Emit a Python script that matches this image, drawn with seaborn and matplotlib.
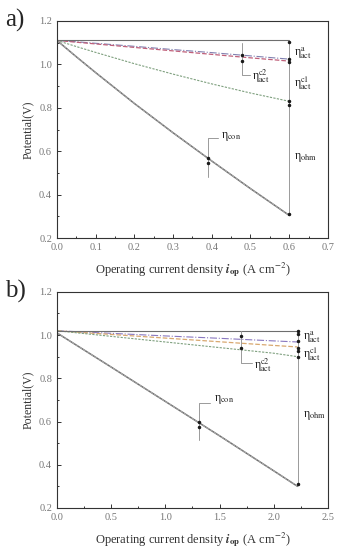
import numpy as np
import pandas as pd
import seaborn as sns
import matplotlib.pyplot as plt

# panel a) data
i_a = [0.0, 0.05, 0.1, 0.2, 0.3, 0.4, 0.5, 0.6]
v_a_total = [1.11, 1.035, 0.962, 0.820, 0.685, 0.555, 0.428, 0.305]
v_a_anode = [1.11, 1.104, 1.097, 1.083, 1.068, 1.054, 1.039, 1.024]
v_a_c2 = [1.11, 1.102, 1.094, 1.078, 1.062, 1.046, 1.030, 1.015]
v_a_c1 = [1.11, 1.082, 1.055, 1.003, 0.955, 0.910, 0.868, 0.830]
ocv_a = 1.11
iop_a = 0.6

# panel b) data
i_b = [0.0, 0.25, 0.5, 1.0, 1.5, 2.0, 2.22]
v_b_total = [1.01, 0.931, 0.852, 0.693, 0.534, 0.372, 0.30]
v_b_anode = [1.02, 1.014, 1.008, 0.996, 0.985, 0.973, 0.968]
v_b_c2 = [1.02, 1.011, 1.003, 0.986, 0.969, 0.952, 0.945]
v_b_c1 = [1.02, 1.007, 0.994, 0.968, 0.942, 0.916, 0.900]
ocv_b = 1.02
iop_b = 2.22

sns.set_theme(style="ticks")
plt.rcParams['font.family'] = ['Liberation Serif', 'DejaVu Serif']
plt.rcParams['mathtext.fontset'] = 'stix'

fig = plt.figure(figsize=(3.43, 5.5), dpi=100)
ax_a = fig.add_axes([0.166, 0.567, 0.790, 0.395])
ax_b = fig.add_axes([0.166, 0.0764, 0.790, 0.393])

gray = '#6e6e6e'
thin = '#9a9a9a'


def draw_curves(ax, x, total, anode, c2, c1, c2_color, anode_color):
    df = pd.DataFrame({'i': x, 'total': total, 'anode': anode, 'c2': c2, 'c1': c1})
    sns.lineplot(data=df, x='i', y='total', ax=ax, color=gray, lw=1.1)
    sns.lineplot(data=df, x='i', y='total', ax=ax, color='#b0b0b0', lw=0.6, linestyle='--')
    sns.lineplot(data=df, x='i', y='anode', ax=ax, color=anode_color, lw=0.8, linestyle='-.')
    sns.lineplot(data=df, x='i', y='c2', ax=ax, color=c2_color, lw=0.9, linestyle='--')
    sns.lineplot(data=df, x='i', y='c1', ax=ax, color='#7fa07f', lw=0.8, linestyle=(0, (2, 1.2)))


draw_curves(ax_a, i_a, v_a_total, v_a_anode, v_a_c2, v_a_c1, '#c0607a', '#8080b0')
draw_curves(ax_b, i_b, v_b_total, v_b_anode, v_b_c2, v_b_c1, '#d8a870', '#8a78c0')

lab = dict(fontsize=8.5, va='center', color='#222222')

# guide lines and markers, panel a
ax_a.plot([0, iop_a], [ocv_a, ocv_a], color=gray, lw=0.8)
ax_a.plot([iop_a, iop_a], [ocv_a, 0.31], color=thin, lw=0.7)
ax_a.plot([iop_a] * 6, [1.103, 1.025, 1.011, 0.831, 0.813, 0.31], 'k.', ms=3)
ax_a.plot([0.478, 0.478, 0.50], [1.10, 0.95, 0.95], color=thin, lw=0.7)
ax_a.plot([0.478, 0.478], [1.043, 1.016], 'k.', ms=3)
ax_a.plot([0.416, 0.39, 0.39], [0.661, 0.661, 0.481], color=thin, lw=0.7)
ax_a.plot([0.39, 0.39], [0.57, 0.545], 'k.', ms=3)
ax_a.text(0.612, 1.05, r'η$^{\mathrm{a}}_{\mathrm{act}}$', **lab)
ax_a.text(0.612, 0.915, r'η$^{\mathrm{c1}}_{\mathrm{act}}$', **lab)
ax_a.text(0.505, 0.945, r'η$^{\mathrm{c2}}_{\mathrm{act}}$', **lab)
ax_a.text(0.425, 0.668, r'η$_{\mathrm{con}}$', **lab)
ax_a.text(0.612, 0.57, r'η$_{\mathrm{ohm}}$', **lab)

# guide lines and markers, panel b
ax_b.plot([0, iop_b], [ocv_b, ocv_b], color=gray, lw=0.8)
ax_b.plot([iop_b, iop_b], [ocv_b, 0.31], color=thin, lw=0.7)
ax_b.plot([iop_b] * 7, [1.018, 1.005, 0.973, 0.94, 0.926, 0.90, 0.311], 'k.', ms=3)
ax_b.plot([1.70, 1.70, 1.80], [1.02, 0.87, 0.87], color=thin, lw=0.7)
ax_b.plot([1.70, 1.70], [0.995, 0.94], 'k.', ms=3)
ax_b.plot([1.41, 1.31, 1.31], [0.686, 0.686, 0.515], color=thin, lw=0.7)
ax_b.plot([1.31, 1.31], [0.60, 0.575], 'k.', ms=3)
ax_b.text(2.27, 0.99, r'η$^{\mathrm{a}}_{\mathrm{act}}$', **lab)
ax_b.text(2.27, 0.91, r'η$^{\mathrm{c1}}_{\mathrm{act}}$', **lab)
ax_b.text(1.82, 0.86, r'η$^{\mathrm{c2}}_{\mathrm{act}}$', **lab)
ax_b.text(1.45, 0.70, r'η$_{\mathrm{con}}$', **lab)
ax_b.text(2.27, 0.63, r'η$_{\mathrm{ohm}}$', **lab)

xlabel = r'Operating current density $\boldsymbol{i}_{\mathbf{op}}$ (A cm$^{-2}$)'
for ax, xmax, xstep in [(ax_a, 0.7, 0.1), (ax_b, 2.5, 0.5)]:
    ax.set_xlim(0, xmax)
    ax.set_ylim(0.2, 1.2)
    ax.set_xticks(np.arange(0, xmax + 1e-9, xstep))
    ax.set_xticks(np.arange(xstep / 2, xmax, xstep), minor=True)
    ax.set_yticks(np.arange(0.2, 1.21, 0.2))
    ax.set_yticks(np.arange(0.3, 1.2, 0.2), minor=True)
    ax.xaxis.set_major_formatter(plt.FuncFormatter(lambda v, _: '{:.1f}'.format(v)))
    ax.yaxis.set_major_formatter(plt.FuncFormatter(lambda v, _: '{:.1f}'.format(v)))
    ax.tick_params(which='both', direction='in', color='#333333', width=0.7,
                   labelsize=7.5, labelcolor='#777777', top=False, right=False)
    ax.tick_params(which='major', length=3)
    ax.tick_params(which='minor', length=1.5)
    for s in ax.spines.values():
        s.set_linewidth(0.8)
        s.set_color('#333333')
    ax.set_xlabel(xlabel, fontsize=9, color='#333333', labelpad=6)
    ax.set_ylabel('Potential(V)', fontsize=8.5, color='#333333', labelpad=4)

fig.text(0.015, 0.962, 'a)', fontsize=18, va='center')
fig.text(0.015, 0.470, 'b)', fontsize=18, va='center')

plt.savefig('out.png', dpi=100)
